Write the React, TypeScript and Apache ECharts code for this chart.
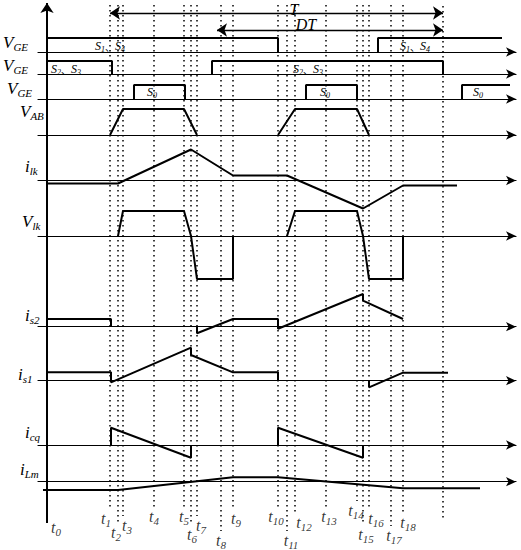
import React, { useEffect, useRef } from 'react';
import * as echarts from 'echarts';

// ---------- data (time in arbitrary units, t0 = 0) ----------
const tickTimes = [0, 63, 71, 76, 107, 137, 144, 150, 174, 186, 231, 240, 248, 279, 310, 316, 322, 344, 356];
const tickLabels = ['0', '1', '2', '3', '4', '5', '6', '7', '8', '9', '10', '11', '12', '13', '14', '15', '16', '17', '18'];
const periodEnd = 396; // end of T
const dtStart = 170; // start of DT

// gate signals (1 = on, 0 = off)
const vgeS1S4 = [[[0, 1], [231, 1], [231, 0]], [[331, 0], [331, 1], [455, 1]]];
const vgeS2S3 = [[[0, 1], [65, 1], [65, 0]], [[165, 0], [165, 1], [396, 1], [396, 0]]];
const vgeS0 = [[[87, 0], [87, 1], [138, 1], [138, 0]], [[259, 0], [259, 1], [310, 1], [310, 0]], [[415, 0], [415, 1], [463, 1]]];
const vAB = [[[63, 0], [76, 1], [137, 1], [150, 0]], [[231, 0], [248, 1], [310, 1], [322, 0]]];
// analog waveforms (relative units)
const iLk = [[[0, -3], [71, -3], [144, 31], [186, 5], [240, 5], [316, -28], [356, -5], [410, -5]]];
const vLk = [
  [[71, 0], [76, 25], [137, 25], [144, 0], [150, -43], [186, -43], [186, 0]],
  [[240, 0], [248, 25], [310, 25], [316, 0], [322, -43], [356, -43], [356, 0]],
];
const iS2 = [
  [[0, 7.7], [64, 7.7], [64, 0]],
  [[150, 0], [150, -6.6], [186, 7.7], [231, 7.7], [231, -2], [316, 32.7], [316, 26], [356, 7.7]],
];
const iS1 = [
  [[0, 8.4], [64, 8.4], [64, -1.6], [144, 33], [144, 25.7], [186, 8.4], [231, 8.4], [231, 0]],
  [[322, 0], [322, -6.6], [356, 8], [401, 8]],
];
const iCq = [
  [[64, 0], [64, 17.3], [144, -12.7], [144, 0]],
  [[231, 0], [231, 17.3], [316, -12.7], [316, 0]],
];
const iLm = [[[-4, -8.3], [71, -8.3], [186, 4.5], [231, 4.5], [356, -6.6], [433, -6.6]]];

const rowNames = ['V', 'V', 'V', 'V', 'i', 'V', 'i', 'i', 'i', 'i'];
const rowSubs = ['GE', 'GE', 'GE', 'AB', 'lk', 'lk', 's2', 's1', 'cq', 'Lm'];
const waveRows = [vgeS1S4, vgeS2S3, vgeS0, vAB, iLk, vLk, iS2, iS1, iCq, iLm];

// ---------- layout ----------
const rowLayout = [
  { y: 52, k: 14 }, { y: 74, k: 13 }, { y: 99, k: 14 }, { y: 135, k: 26 }, { y: 180.5, k: 1 },
  { y: 236, k: 1 }, { y: 326.7, k: 1 }, { y: 380.7, k: 1 }, { y: 445, k: 1 }, { y: 481.7, k: 1 },
];
const rowLabelPos = [
  [3, 42], [3, 65], [7, 88], [20, 111], [25, 166], [22, 221], [25, 315], [18, 374], [25, 432], [20, 469],
];
const tickLabelPos = [
  [9, 527], [-4, 518], [-2, 532], [4, 525], [0, 516], [0, 516], [1, 534], [4, 525], [0, 540], [3, 518],
  [-2, 516], [4, 540], [9, 522], [3, 516], [-1, 510], [3, 534], [7, 518], [3, 535], [5, 522],
];
const X_MIN = -9;
const X_MAX = 469;
const HALF = 50;
const SERIF = '"Liberation Serif", "Times New Roman", serif';

const richMain = (size: number, subSize: number, lh: number, subLh: number) => ({
  m: { fontFamily: SERIF, fontStyle: 'italic', fontSize: size, fill: '#000', color: '#000', lineHeight: lh },
  s: { fontFamily: SERIF, fontStyle: 'italic', fontSize: subSize, fill: '#000', color: '#000', lineHeight: subLh, verticalAlign: 'bottom' },
  c: { fontFamily: '"Noto Sans CJK SC", sans-serif', fontSize: 10, fill: '#000', color: '#000', lineHeight: lh },
});

export default function App() {
  const ref = useRef<HTMLDivElement>(null);
  useEffect(() => {
    document.body.style.margin = '0';
    const chart = echarts.init(ref.current as HTMLDivElement, undefined, { renderer: 'svg' });
    const grids: any[] = [];
    const xAxes: any[] = [];
    const yAxes: any[] = [];
    const series: any[] = [];

    rowLayout.forEach((r, i) => {
      grids.push({ left: 38, right: 5, top: r.y - HALF, height: HALF * 2 });
      xAxes.push({
        gridIndex: i, type: 'value', min: X_MIN, max: X_MAX,
        axisLine: { show: true, onZero: true, symbol: ['none', 'arrow'], symbolSize: [7, 10], lineStyle: { color: '#000', width: 1.2 } },
        axisTick: { show: false }, axisLabel: { show: false }, splitLine: { show: false },
      });
      yAxes.push({ gridIndex: i, type: 'value', min: -HALF / r.k, max: HALF / r.k, show: false });
      waveRows[i].forEach((seg) => {
        series.push({
          type: 'line', xAxisIndex: i, yAxisIndex: i, data: seg, symbol: 'none', silent: true, clip: false,
          lineStyle: { color: '#000', width: 2 },
        });
      });
    });

    // overlay grid (full page)
    const ov = rowLayout.length;
    grids.push({ left: 38, right: 5, top: 0, bottom: 0 });
    xAxes.push({ gridIndex: ov, type: 'value', min: X_MIN, max: X_MAX, show: false });
    yAxes.push({ gridIndex: ov, type: 'value', min: 0, max: 550, inverse: true, show: false });

    const dotted = tickTimes.slice(1).map((t, i) => ({ coords: [[t, 5], [t, tickLabelPos[i + 1][1] - 9]] }));
    dotted.push({ coords: [[periodEnd, 6], [periodEnd, 518]] });
    series.push({
      type: 'lines', coordinateSystem: 'cartesian2d', xAxisIndex: ov, yAxisIndex: ov, silent: true,
      data: dotted, symbol: 'none', lineStyle: { color: '#000', width: 1.5, type: [1.5, 3.5], opacity: 1 },
    });
    series.push({
      type: 'lines', coordinateSystem: 'cartesian2d', xAxisIndex: ov, yAxisIndex: ov, silent: true,
      data: [{ coords: [[0, 523], [0, 3]] }], symbol: ['none', 'arrow'], symbolSize: 10,
      lineStyle: { color: '#000', width: 2, opacity: 1 },
    });
    series.push({
      type: 'lines', coordinateSystem: 'cartesian2d', xAxisIndex: ov, yAxisIndex: ov, silent: true,
      data: [{ coords: [[tickTimes[1], 13], [periodEnd, 13]] }, { coords: [[dtStart, 30], [periodEnd, 30]] }],
      symbol: ['arrow', 'arrow'], symbolSize: 10,
      lineStyle: { color: '#000', width: 1.3, opacity: 1 },
    });
    series.push({
      type: 'scatter', xAxisIndex: ov, yAxisIndex: ov, silent: true, symbolSize: 1,
      itemStyle: { color: 'rgba(0,0,0,0)' },
      data: tickTimes.map((t, i) => ({ value: [t + tickLabelPos[i][0], tickLabelPos[i][1]] })),
      label: {
        show: true, position: 'inside', color: '#000',
        formatter: (p: any) => `{m|t}{s|${tickLabels[p.dataIndex]}}`,
        rich: {
          m: { fontFamily: SERIF, fontStyle: 'italic', fontSize: 16, color: '#000', lineHeight: 20 },
          s: { fontFamily: SERIF, fontStyle: 'italic', fontSize: 11, color: '#000', lineHeight: 9, verticalAlign: 'bottom' },
        },
      },
    });

    const graphic: any[] = [];
    rowNames.forEach((n, i) => {
      graphic.push({
        type: 'text', x: rowLabelPos[i][0], y: rowLabelPos[i][1],
        style: { text: `{m|${n}}{s|${rowSubs[i]}}`, rich: richMain(17, 11, 20, 9), verticalAlign: 'middle', align: 'left', fill: '#000' },
      });
    });
    const sLabels: [number, number, string][] = [
      [110, 46, '{m|S}{s|1}{c|、}{m|S}{s|4}'], [415, 46, '{m|S}{s|1}{c|、}{m|S}{s|4}'],
      [66, 69, '{m|S}{s|2}{c|、}{m|S}{s|3}'], [308, 69, '{m|S}{s|2}{c|、}{m|S}{s|3}'],
      [152, 92, '{m|S}{s|0}'], [325, 92, '{m|S}{s|0}'], [478, 92, '{m|S}{s|0}'],
    ];
    sLabels.forEach(([x, y, t]) => {
      graphic.push({
        type: 'text', x, y,
        style: { text: t, rich: richMain(12, 8, 14, 9), verticalAlign: 'middle', align: 'center', fill: '#000' },
      });
    });
    graphic.push({ type: 'text', x: 294, y: 9, style: { text: 'T', font: `italic 16px ${SERIF}`, fill: '#000', align: 'center', verticalAlign: 'middle' } });
    graphic.push({ type: 'text', x: 306, y: 24, style: { text: 'DT', font: `italic 16px ${SERIF}`, fill: '#000', align: 'center', verticalAlign: 'middle' } });

    chart.setOption({
      animation: false,
      backgroundColor: '#fff',
      grid: grids,
      xAxis: xAxes,
      yAxis: yAxes,
      series,
      graphic,
    });
    return () => chart.dispose();
  }, []);
  return <div ref={ref} style={{ width: 521, height: 550 }} />;
}
